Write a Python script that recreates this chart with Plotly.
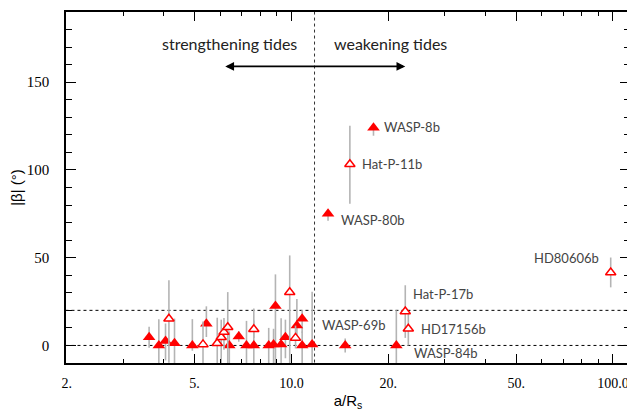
import math
import plotly.graph_objects as go

# ---- data ----
filled_x = [3.61, 3.87, 4.06, 4.33, 4.92, 5.44, 6.41, 6.86, 7.25, 7.64, 8.50, 8.92, 8.80, 9.29, 9.58,
            10.4, 10.8, 10.8, 11.6, 14.7, 21.2, 13.0, 18.0]
filled_y = [4.7, 0.0, 2.5, 1.3, 0.0, 12.3, 0.0, 5.1, 0.0, 0.0, 0.0, 22.5, 0.5, 0.5, 4.7,
            11.4, 15.2, 0.0, 0.6, 0.0, 0.0, 75.0, 124.0]
filled_err_plus = [6, 15, 10, 14, 15, 10, 8, 3, 14, 21, 10, 18, 9, 15, 10,
                   15, 5, 8, 30, 4, 20, 2, 2]
filled_err_minus = [6, 20, 11, 15, 3, 7.5, 15, 3, 15, 15, 15, 35, 15, 15, 12,
                    8, 8, 15, 15, 4, 10, 4, 4.5]

open_x = [4.16, 5.31, 5.88, 6.05, 6.17, 6.34, 7.64, 9.88, 10.3, 15.2, 98.4, 22.6, 23.1]
open_y = [15.2, 0.6, 1.3, 4.7, 7.6, 10.4, 9.2, 30.3, 4.3, 103.2, 41.6, 19.3, 9.5]
open_err_plus = [22, 13, 14.5, 10, 8, 20, 5, 21, 7, 22, 8.5, 15, 9.5]
open_err_minus = [25, 15, 15, 15, 10, 25, 5, 45, 6, 22.5, 8.5, 15, 9.5]

label_names = ["WASP-8b", "Hat-P-11b", "WASP-80b", "HD80606b", "Hat-P-17b", "HD17156b", "WASP-69b", "WASP-84b"]
label_x = [18.0, 15.2, 13.0, 98.4, 22.6, 23.1, 14.7, 21.2]
label_y = [124.0, 103.2, 75.0, 41.6, 19.3, 9.5, 0.0, 0.0]

x_tickvals = [2, 5, 10, 20, 50, 100]
x_ticktext = ["2.", "5.", "10.0", "20.", "50.", "100.0"]
x_minor = [3, 4, 6, 7, 8, 9, 30, 40, 60, 70, 80, 90]
y_tickvals = [0, 50, 100, 150]
y_minor = [-10, 10, 20, 30, 40, 60, 70, 80, 90, 110, 120, 130, 140, 160, 170, 180]

tide_boundary = 11.8
ref_levels = [0, 20]

# label placement (style only)
label_style = {
    "WASP-8b": dict(xanchor="left", xshift=9, yshift=1),
    "Hat-P-11b": dict(xanchor="left", xshift=10, yshift=0),
    "WASP-80b": dict(xanchor="left", xshift=11, yshift=-6),
    "HD80606b": dict(xanchor="right", xshift=-10, yshift=14),
    "Hat-P-17b": dict(xanchor="left", xshift=6, yshift=18),
    "HD17156b": dict(xanchor="left", xshift=11, yshift=0),
    "WASP-69b": dict(xanchor="center", xshift=8, yshift=20),
    "WASP-84b": dict(xanchor="left", xshift=16, yshift=-8),
}

XR = [math.log10(2) - 0.002, 2.053]
YR = [-10, 190]

fig = go.Figure()

# reference dotted lines
for lv in ref_levels:
    fig.add_trace(go.Scatter(x=[1.9, 120], y=[lv, lv], mode="lines",
                             line=dict(color="#000", width=1, dash="dot"),
                             hoverinfo="skip", showlegend=False))
fig.add_trace(go.Scatter(x=[tide_boundary, tide_boundary], y=[-20, 200], mode="lines",
                         line=dict(color="#333", width=1, dash="dot"),
                         hoverinfo="skip", showlegend=False))

err_style = dict(type="data", symmetric=False, color="#b4b4b4", thickness=1.6, width=0)

fig.add_trace(go.Scatter(
    x=filled_x, y=filled_y, mode="markers",
    marker=dict(symbol="triangle-up", size=11, color="#ff0000", line=dict(width=0)),
    error_y=dict(array=filled_err_plus, arrayminus=filled_err_minus, **err_style),
    showlegend=False))

fig.add_trace(go.Scatter(
    x=open_x, y=open_y, mode="markers",
    marker=dict(symbol="triangle-up", size=9, color="white", line=dict(width=1.5, color="#ff0000")),
    error_y=dict(array=open_err_plus, arrayminus=open_err_minus, **err_style),
    showlegend=False))

annotations = []
for n, lx, ly in zip(label_names, label_x, label_y):
    st = label_style[n]
    annotations.append(dict(x=math.log10(lx), y=ly, xref="x", yref="y", text=n, showarrow=False,
                            xanchor=st["xanchor"], yanchor="middle", xshift=st["xshift"], yshift=st["yshift"],
                            font=dict(family="Lato", size=13, color="#444")))

# tide texts and arrow
annotations.append(dict(x=math.log10(6.4), y=172, xref="x", yref="y", text="strengthening tides",
                        showarrow=False, font=dict(family="Lato", size=16, color="#222")))
annotations.append(dict(x=math.log10(20.3), y=172, xref="x", yref="y", text="weakening tides",
                        showarrow=False, font=dict(family="Lato", size=16, color="#222")))
annotations.append(dict(x=math.log10(22.6), y=159, xref="x", yref="y", text=" ",
                        showarrow=True, axref="pixel", ayref="pixel", ax=-183, ay=0,
                        arrowhead=2, startarrowhead=2, arrowside="end+start",
                        arrowsize=1.1, startarrowsize=1.1, arrowwidth=1.6, arrowcolor="#000",
                        standoff=0, startstandoff=0))

# the page body adds an 8px offset; compensate so the plot area lands where the reference has it
fig.update_layout(
    width=627, height=403,
    margin=dict(l=57, r=5, t=2, b=48),
    paper_bgcolor="white", plot_bgcolor="white",
    annotations=annotations,
    xaxis=dict(type="log", range=XR, tickvals=x_tickvals, ticktext=x_ticktext,
               ticks="inside", ticklen=9, tickwidth=1.2, tickcolor="#000",
               showline=True, linecolor="#000", linewidth=1.5, mirror="allticks",
               showgrid=False, zeroline=False,
               minor=dict(tickvals=x_minor, ticks="inside", ticklen=4, tickwidth=1, tickcolor="#000", showgrid=False),
               tickfont=dict(family="Liberation Serif", size=14, color="#000"),
               ticklabelstandoff=6,
               title=dict(text="a/R<sub>s</sub>", font=dict(family="Liberation Sans", size=15, color="#000"),
                          standoff=8)),
    yaxis=dict(range=YR, tickvals=y_tickvals,
               ticks="inside", ticklen=10, tickwidth=1.2, tickcolor="#000",
               showline=True, linecolor="#000", linewidth=1.5, mirror="allticks",
               showgrid=False, zeroline=False,
               minor=dict(tickvals=y_minor, ticks="inside", ticklen=6, tickwidth=1, tickcolor="#000", showgrid=False),
               tickfont=dict(family="Liberation Serif", size=15, color="#000"),
               ticklabelstandoff=12,
               title=dict(text="|β| (°)", font=dict(family="Liberation Sans", size=15, color="#000"),
                          standoff=6)),
)

fig.write_html("out.html")
